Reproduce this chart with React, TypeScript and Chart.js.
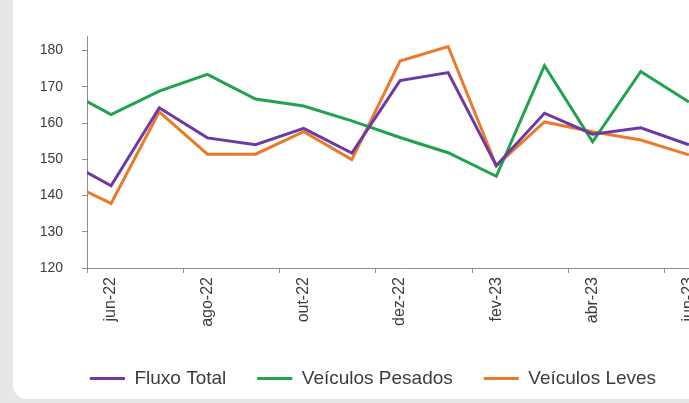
import { useEffect, useRef } from "react";
import { Chart, registerables } from "chart.js";

Chart.register(...registerables);

// Monthly index values, starting one month before the first labelled month
const months = [
  "mai-22", "jun-22", "jul-22", "ago-22", "set-22", "out-22", "nov-22",
  "dez-22", "jan-23", "fev-23", "mar-23", "abr-23", "mai-23", "jun-23",
];
const fluxoTotal = [150.0, 142.7, 164.2, 155.9, 154.0, 158.5, 151.7, 171.7, 173.9, 148.2, 162.7, 156.9, 158.7, 154.0];
const veiculosPesados = [169.6, 162.3, 168.8, 173.4, 166.6, 164.7, 160.6, 156.0, 151.8, 145.3, 175.8, 154.8, 174.2, 165.8];
const veiculosLeves = [144.2, 137.8, 163.1, 151.4, 151.4, 157.6, 149.9, 177.1, 181.1, 148.2, 160.3, 157.6, 155.3, 151.2];
const yTicks = [120, 130, 140, 150, 160, 170, 180];
const seriesNames = ["Fluxo Total", "Veículos Pesados", "Veículos Leves"];
const seriesColors = ["#6c3aa3", "#21a24f", "#ea7a2a"];

const AXIS = "#8f8f8f";
const TEXT = "#3c3c3c";
const FONT = "'Liberation Sans', Arial, sans-serif";

export default function App() {
  const ref = useRef<HTMLCanvasElement | null>(null);

  useEffect(() => {
    if (!ref.current) return;
    const series = [fluxoTotal, veiculosPesados, veiculosLeves];

    // x ticks: labels on every second month, tick marks on the boundaries between pairs
    const xTickValues: number[] = [];
    for (let i = 1; i < months.length; i += 2) xTickValues.push(i - 0.5, i);

    const chart = new Chart(ref.current, {
      type: "line",
      data: {
        datasets: series.map((vals, s) => ({
          label: seriesNames[s],
          data: vals.map((v, i) => ({ x: i, y: v })),
          borderColor: seriesColors[s],
          backgroundColor: seriesColors[s],
          borderWidth: 3,
          pointRadius: 0,
          tension: 0,
          clip: 0,
        })),
      },
      options: {
        animation: false,
        responsive: false,
        devicePixelRatio: 1,
        layout: { padding: { left: 20, right: 20, top: 36, bottom: 1 } },
        scales: {
          x: {
            type: "linear",
            min: 0.5,
            max: months.length - 0.5,
            afterBuildTicks: (scale: any) => {
              scale.ticks = xTickValues.map((v) => ({ value: v }));
            },
            afterFit: (scale: any) => {
              scale.height = 70;
              scale.paddingLeft = 0;
              scale.paddingRight = 0;
            },
            border: { color: AXIS, width: 1 },
            grid: {
              drawOnChartArea: false,
              drawTicks: true,
              tickLength: 5,
              color: (ctx: any) =>
                ctx.tick && !Number.isInteger(ctx.tick.value) ? AXIS : "rgba(0,0,0,0)",
            },
            ticks: {
              autoSkip: false,
              minRotation: 90,
              maxRotation: 90,
              padding: 4,
              color: TEXT,
              font: { family: FONT, size: 16 },
              callback: (v: any) => (Number.isInteger(v) ? months[v] : ""),
            },
          },
          y: {
            type: "linear",
            min: 120,
            max: 184,
            afterBuildTicks: (scale: any) => {
              scale.ticks = yTicks.map((v) => ({ value: v }));
            },
            afterFit: (scale: any) => {
              scale.width = 54;
              scale.paddingTop = 0;
              scale.paddingBottom = 0;
            },
            border: { color: AXIS, width: 1 },
            grid: { drawOnChartArea: false, drawTicks: true, tickLength: 5, color: AXIS },
            ticks: {
              padding: 19,
              color: TEXT,
              font: { family: FONT, size: 14 },
            },
          },
        },
        plugins: {
          tooltip: { enabled: false },
          legend: {
            position: "bottom",
            align: "center",
            labels: {
              boxWidth: 35,
              boxHeight: 3,
              padding: 31,
              color: TEXT,
              font: { family: FONT, size: 19 },
              generateLabels: (c: any) =>
                Chart.defaults.plugins.legend.labels
                  .generateLabels(c)
                  .map((l: any) => ({ ...l, lineWidth: 0 })),
            },
          },
        },
      },
    } as any);

    return () => chart.destroy();
  }, []);

  return (
    <div
      style={{
        position: "fixed",
        inset: 0,
        background: "#e7e7e7",
        overflow: "hidden",
      }}
    >
      <div
        style={{
          position: "absolute",
          left: 13,
          top: -20,
          width: 800,
          height: 419,
          background: "#ffffff",
          borderRadius: 14,
          overflow: "hidden",
        }}
      >
        <canvas
          ref={ref}
          width={720}
          height={399}
          style={{ position: "absolute", left: 0, top: 20, width: 720, height: 399 }}
        />
      </div>
    </div>
  );
}
